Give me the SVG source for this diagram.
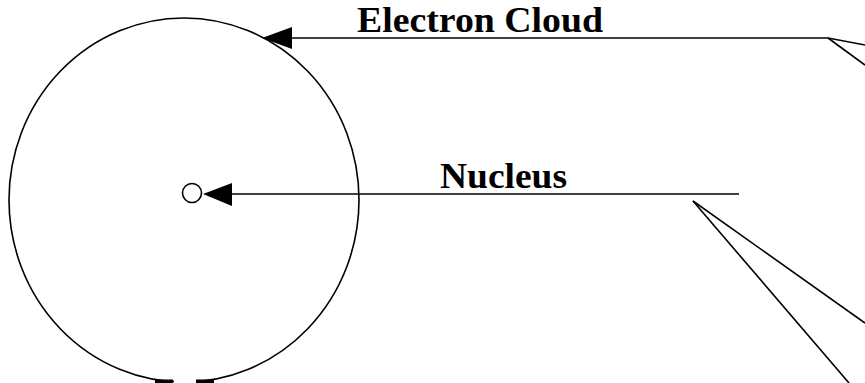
<svg xmlns="http://www.w3.org/2000/svg" width="865" height="383" viewBox="0 0 865 383">
<style>
.ln{fill:none;stroke:#000;stroke-width:1.6}
.hd{fill:#000;stroke:none}
.lbl{font-family:"Liberation Serif","Times New Roman",serif;font-weight:bold;font-size:36px;fill:#000}
</style>
<rect x="0" y="0" width="865" height="383" fill="#fff"/>
<g id="cloud">
<ellipse class="ln" cx="184" cy="200" rx="175" ry="182"/>
<rect x="174" y="376" width="22" height="7" fill="#fff"/>
<rect x="155" y="379.5" width="18" height="3.5" fill="#000"/>
<rect x="196" y="379.5" width="18" height="3.5" fill="#000"/>
</g>
<g id="nucleus">
<circle class="ln" cx="192" cy="193" r="9.5"/>
</g>
<g id="label-electron-cloud">
<text class="lbl" x="357" y="32" textLength="246" lengthAdjust="spacingAndGlyphs">Electron Cloud</text>
</g>
<g id="label-nucleus">
<text class="lbl" x="440" y="188" textLength="127" lengthAdjust="spacingAndGlyphs">Nucleus</text>
</g>
<g id="connectors">
<line class="ln" x1="290" y1="38" x2="828" y2="38"/>
<polygon class="hd" points="262,38 292,27 292,49"/>
<line class="ln" x1="828" y1="38" x2="865" y2="45"/>
<line class="ln" x1="828" y1="38" x2="865" y2="65"/>
<line class="ln" x1="230" y1="194" x2="739" y2="194"/>
<polygon class="hd" points="203,194 232,183 232,206"/>
<line class="ln" x1="693" y1="201" x2="865" y2="323"/>
<line class="ln" x1="693" y1="201" x2="849" y2="383"/>
</g>
</svg>
